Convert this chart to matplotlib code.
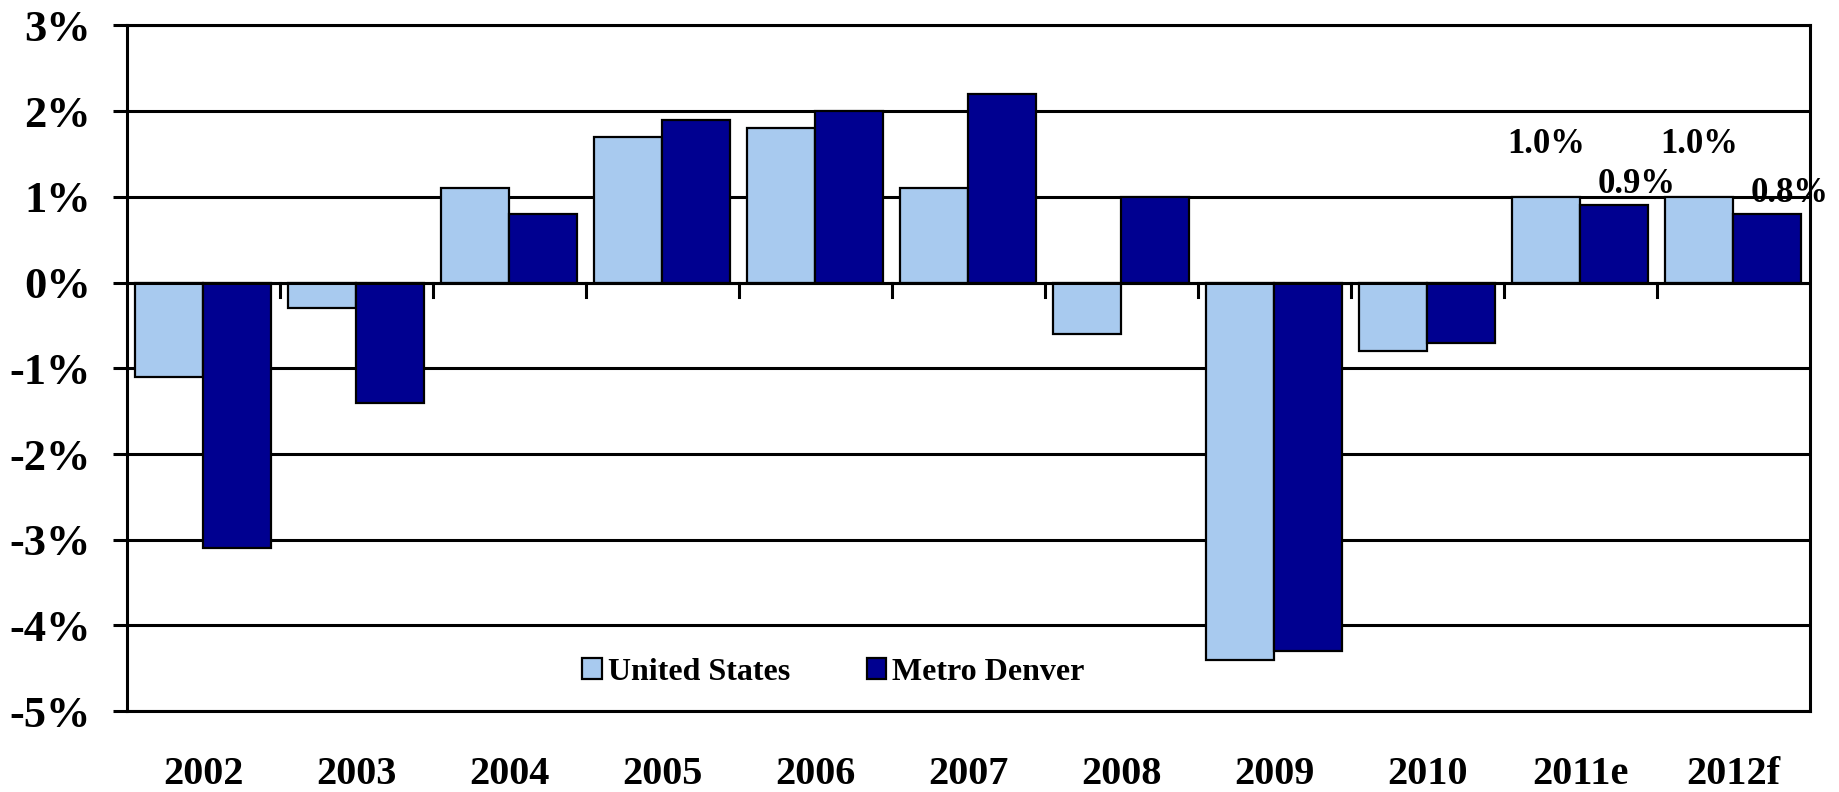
import numpy as np
import matplotlib
matplotlib.use("Agg")
import matplotlib.pyplot as plt
from matplotlib.ticker import FuncFormatter

years = ["2002", "2003", "2004", "2005", "2006", "2007", "2008", "2009", "2010", "2011e", "2012f"]
us = [-1.1, -0.3, 1.1, 1.7, 1.8, 1.1, -0.6, -4.4, -0.8, 1.0, 1.0]
denver = [-3.1, -1.4, 0.8, 1.9, 2.0, 2.2, 1.0, -4.3, -0.7, 0.9, 0.8]
labelled = ["2011e", "2012f"]

plt.rcParams['font.family'] = ['Liberation Serif', 'DejaVu Serif']
plt.rcParams['font.weight'] = 'bold'

fig = plt.figure(figsize=(18.39, 7.92), dpi=100)
ax = fig.add_axes([0.069, 0.102, 0.915, 0.866])

x = np.arange(len(years))
w = 0.445
ax.bar(x - w / 2, us, w, color='#A8CAEF', edgecolor='black', linewidth=1.6,
       label='United States', zorder=3)
ax.bar(x + w / 2, denver, w, color='#000090', edgecolor='black', linewidth=1.6,
       label='Metro Denver', zorder=3)

# data labels for the forecast years
for i, yr in enumerate(years):
    if yr in labelled:
        ax.annotate(f"{us[i]:.1f}%", (x[i] - w / 2, us[i]), xytext=(0, 38),
                    textcoords='offset points', ha='center', va='center',
                    fontsize=25, fontweight='bold', zorder=5)
        ax.annotate(f"{denver[i]:.1f}%", (x[i] + w / 2, denver[i]), xytext=(16, 15),
                    textcoords='offset points', ha='center', va='center',
                    fontsize=25, fontweight='bold', zorder=5)

ax.set_xlim(-0.5, len(years) - 0.5)
ax.set_ylim(-5, 3)
ax.set_yticks(np.arange(-5, 4, 1))
ax.yaxis.set_major_formatter(FuncFormatter(lambda v, p: f"{v:.0f}%"))
ax.grid(axis='y', color='black', linewidth=2.2, zorder=1)

# category axis sits at zero with short tick marks between groups
ax.axhline(0, color='black', linewidth=2.2, zorder=4)
for b in np.arange(0.5, len(years) - 1, 1):
    ax.plot([b, b], [0, -0.17], color='black', linewidth=2.2, zorder=4)

ax.set_xticks(x)
ax.set_xticklabels(years)
ax.tick_params(axis='x', length=0, pad=32, labelsize=29)
ax.tick_params(axis='y', length=10, width=2.2, direction='out', pad=16, labelsize=32)

for s in ax.spines.values():
    s.set_linewidth(2.2)
    s.set_color('black')

leg = ax.legend(loc='center', bbox_to_anchor=(0.42, 0.057), ncol=2, frameon=False,
                fontsize=23, handlelength=0.6, handleheight=0.6, handletextpad=0.2,
                columnspacing=2.4)
for h in leg.legend_handles:
    h.set_linewidth(1.6)

fig.savefig("out.png", dpi=100)
